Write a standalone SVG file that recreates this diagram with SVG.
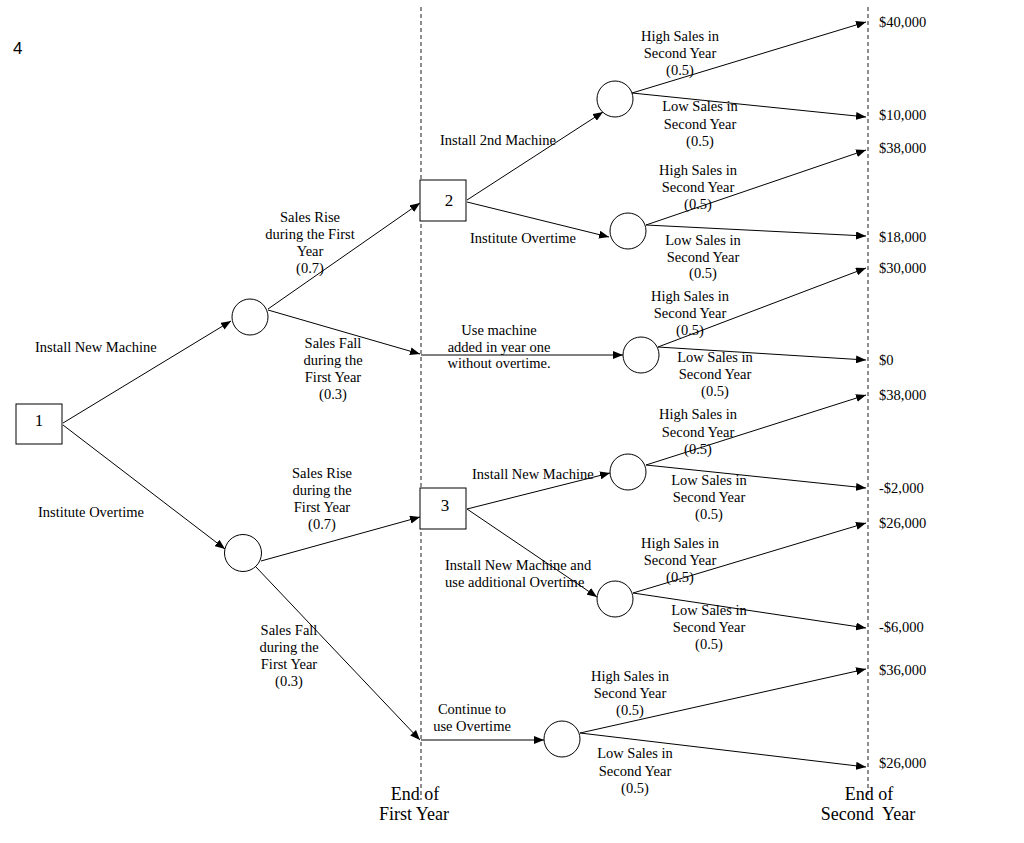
<svg xmlns="http://www.w3.org/2000/svg" width="1024" height="843" viewBox="0 0 1024 843">
<style>
text{font-family:"Liberation Serif","Times New Roman",serif;font-size:14.5px;fill:#000}
.c{text-anchor:middle}
.big{font-size:18px}
.nd{font-size:17px;text-anchor:middle}
.num{font-family:"Liberation Sans",Arial,sans-serif;font-size:17px}
.node{fill:#fff;stroke:#000;stroke-width:1}
.ln{stroke:#000;stroke-width:1;fill:none;marker-end:url(#ah)}
.dash{stroke:#444;stroke-width:1.2;stroke-dasharray:4 3;fill:none}
</style>
<defs>
<marker id="ah" markerWidth="10" markerHeight="8" refX="10" refY="4" orient="auto" markerUnits="userSpaceOnUse">
<path d="M0,0 L10,4 L0,8 Z" fill="#000"/>
</marker>
</defs>
<rect width="1024" height="843" fill="#fff"/>
<text class="num" x="13" y="54">4</text>
<g id="guides">
<line class="dash" x1="421" y1="7" x2="421" y2="800"/>
<line class="dash" x1="868" y1="7" x2="868" y2="800"/>
</g>
<g id="connectors">
<line class="ln" x1="63" y1="423" x2="231" y2="321"/>
<line class="ln" x1="63" y1="425" x2="225" y2="549"/>
<line class="ln" x1="268" y1="309" x2="420" y2="203"/>
<line class="ln" x1="268" y1="310" x2="420" y2="354"/>
<line class="ln" x1="421" y1="355" x2="623" y2="355"/>
<line class="ln" x1="261" y1="561" x2="420" y2="517"/>
<line class="ln" x1="256" y1="567" x2="420" y2="740"/>
<line class="ln" x1="421" y1="740" x2="544" y2="740"/>
<line class="ln" x1="467" y1="200" x2="603" y2="112"/>
<line class="ln" x1="467" y1="202" x2="609" y2="237"/>
<line class="ln" x1="467" y1="509" x2="610" y2="473"/>
<line class="ln" x1="467" y1="509" x2="597" y2="597"/>
<line class="ln" x1="632" y1="93" x2="866" y2="22"/>
<line class="ln" x1="632" y1="93" x2="866" y2="117"/>
<line class="ln" x1="646" y1="225" x2="866" y2="150"/>
<line class="ln" x1="646" y1="225" x2="866" y2="236"/>
<line class="ln" x1="658" y1="347" x2="866" y2="268"/>
<line class="ln" x1="658" y1="347" x2="866" y2="360"/>
<line class="ln" x1="646" y1="465" x2="866" y2="395"/>
<line class="ln" x1="646" y1="465" x2="866" y2="488"/>
<line class="ln" x1="633" y1="593" x2="866" y2="523"/>
<line class="ln" x1="633" y1="593" x2="866" y2="628"/>
<line class="ln" x1="580" y1="733" x2="866" y2="669"/>
<line class="ln" x1="580" y1="733" x2="866" y2="767"/>
</g>
<g id="d1"><rect class="node" x="16" y="404" width="46" height="40"/><text class="nd" x="39" y="426">1</text></g>
<g id="d2"><rect class="node" x="420" y="180" width="46" height="41"/><text class="nd" x="449" y="206">2</text></g>
<g id="d3"><rect class="node" x="420" y="488" width="46" height="41"/><text class="nd" x="445" y="511">3</text></g>
<g id="cA"><circle class="node" cx="250" cy="317" r="18"/></g>
<g id="cB"><circle class="node" cx="243" cy="553" r="18.5"/></g>
<g id="cC"><circle class="node" cx="615" cy="99" r="18"/></g>
<g id="cD"><circle class="node" cx="628" cy="231" r="18"/></g>
<g id="cE"><circle class="node" cx="641" cy="355" r="18"/></g>
<g id="cF"><circle class="node" cx="628" cy="472" r="18"/></g>
<g id="cG"><circle class="node" cx="615" cy="599" r="18"/></g>
<g id="cH"><circle class="node" cx="562" cy="739" r="18"/></g>
<g id="labels">
<text x="35" y="352">Install New Machine</text>
<text x="38" y="517">Institute Overtime</text>
<text class="c" x="310" y="222">Sales Rise</text>
<text class="c" x="310" y="239">during the First</text>
<text class="c" x="310" y="256">Year</text>
<text class="c" x="310" y="273">(0.7)</text>
<text class="c" x="333" y="348">Sales Fall</text>
<text class="c" x="333" y="365">during the</text>
<text class="c" x="333" y="382">First Year</text>
<text class="c" x="333" y="399">(0.3)</text>
<text class="c" x="322" y="478">Sales Rise</text>
<text class="c" x="322" y="495">during the</text>
<text class="c" x="322" y="512">First Year</text>
<text class="c" x="322" y="529">(0.7)</text>
<text class="c" x="289" y="635">Sales Fall</text>
<text class="c" x="289" y="652">during the</text>
<text class="c" x="289" y="669">First Year</text>
<text class="c" x="289" y="686">(0.3)</text>
<text x="440" y="145">Install 2nd Machine</text>
<text x="470" y="243">Institute Overtime</text>
<text class="c" x="499" y="335">Use machine</text>
<text class="c" x="499" y="352">added in year one</text>
<text class="c" x="499" y="368">without overtime.</text>
<text x="472" y="479">Install New Machine</text>
<text x="445" y="570">Install New Machine and</text>
<text x="445" y="587">use additional Overtime</text>
<text class="c" x="472" y="714">Continue to</text>
<text class="c" x="472" y="731">use Overtime</text>
<text class="c" x="680" y="41">High Sales in</text>
<text class="c" x="680" y="58">Second Year</text>
<text class="c" x="680" y="75">(0.5)</text>
<text class="c" x="700" y="111">Low Sales in</text>
<text class="c" x="700" y="129">Second Year</text>
<text class="c" x="700" y="146">(0.5)</text>
<text class="c" x="698" y="175">High Sales in</text>
<text class="c" x="698" y="192">Second Year</text>
<text class="c" x="698" y="209">(0.5)</text>
<text class="c" x="703" y="245">Low Sales in</text>
<text class="c" x="703" y="262">Second Year</text>
<text class="c" x="703" y="278">(0.5)</text>
<text class="c" x="690" y="301">High Sales in</text>
<text class="c" x="690" y="318">Second Year</text>
<text class="c" x="690" y="335">(0.5)</text>
<text class="c" x="715" y="362">Low Sales in</text>
<text class="c" x="715" y="379">Second Year</text>
<text class="c" x="715" y="396">(0.5)</text>
<text class="c" x="698" y="419">High Sales in</text>
<text class="c" x="698" y="437">Second Year</text>
<text class="c" x="698" y="454">(0.5)</text>
<text class="c" x="709" y="485">Low Sales in</text>
<text class="c" x="709" y="502">Second Year</text>
<text class="c" x="709" y="519">(0.5)</text>
<text class="c" x="680" y="548">High Sales in</text>
<text class="c" x="680" y="565">Second Year</text>
<text class="c" x="680" y="582">(0.5)</text>
<text class="c" x="709" y="615">Low Sales in</text>
<text class="c" x="709" y="632">Second Year</text>
<text class="c" x="709" y="649">(0.5)</text>
<text class="c" x="630" y="681">High Sales in</text>
<text class="c" x="630" y="698">Second Year</text>
<text class="c" x="630" y="715">(0.5)</text>
<text class="c" x="635" y="758">Low Sales in</text>
<text class="c" x="635" y="776">Second Year</text>
<text class="c" x="635" y="793">(0.5)</text>
</g>
<g id="payoffs">
<text x="879" y="27">$40,000</text>
<text x="879" y="120">$10,000</text>
<text x="879" y="153">$38,000</text>
<text x="879" y="242">$18,000</text>
<text x="879" y="273">$30,000</text>
<text x="879" y="365">$0</text>
<text x="879" y="400">$38,000</text>
<text x="879" y="493">-$2,000</text>
<text x="879" y="528">$26,000</text>
<text x="879" y="632">-$6,000</text>
<text x="879" y="675">$36,000</text>
<text x="879" y="768">$26,000</text>
</g>
<g id="axis-labels">
<text class="c big" x="415" y="800">End of</text>
<text class="c big" x="414" y="820">First Year</text>
<text class="c big" x="869" y="800">End of</text>
<text class="c big" x="868" y="820" xml:space="preserve">Second  Year</text>
</g>
</svg>
